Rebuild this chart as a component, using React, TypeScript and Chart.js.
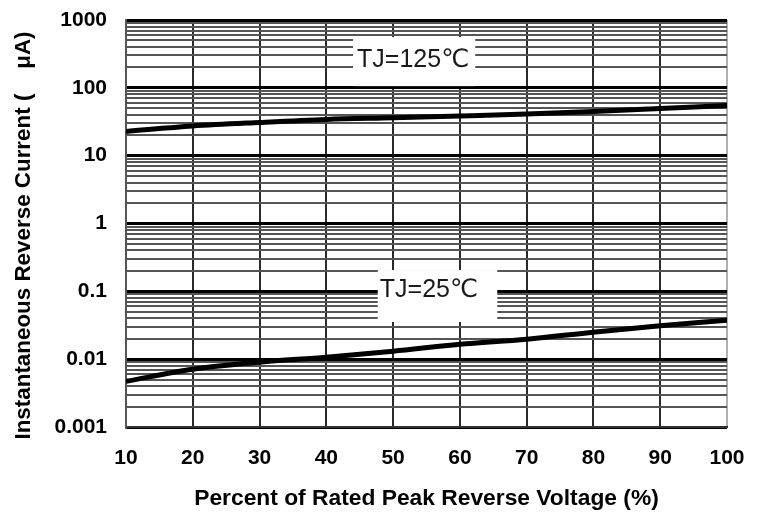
import React, { useEffect, useRef } from 'react';
import { Chart, registerables } from 'chart.js';

Chart.register(...registerables);

// ---- data ----
const xValues = [10, 20, 30, 40, 50, 60, 70, 80, 90, 100];
const tj125Values = [22.8, 27.4, 30.9, 34.2, 36.2, 38.5, 41.2, 44.9, 49.7, 55];
const tj25Values = [0.0047, 0.0071, 0.009, 0.0107, 0.0131, 0.0166, 0.0197, 0.025, 0.0312, 0.0376];

const xTickValues = [10, 20, 30, 40, 50, 60, 70, 80, 90, 100];
const xTickLabels = ['10', '20', '30', '40', '50', '60', '70', '80', '90', '100'];
const yDecadeValues = [0.001, 0.01, 0.1, 1, 10, 100, 1000];
const yDecadeLabels = ['0.001', '0.01', '0.1', '1', '10', '100', '1000'];
const yMinorMultipliers = [2, 3, 4, 5, 6, 7, 8, 9];

const seriesLabels = ['TJ=125\u2103', 'TJ=25\u2103'];
const xTitle = 'Percent of Rated Peak Reverse Voltage (%)';
const yTitle = 'Instantaneous Reverse Current (    \u03bcA)';

const FONT = "'Liberation Sans', Arial, 'DejaVu Sans', sans-serif";

function buildYTicks() {
  const ticks: { value: number }[] = [];
  for (let i = 0; i < yDecadeValues.length; i++) {
    const d = yDecadeValues[i];
    ticks.push({ value: d });
    if (i < yDecadeValues.length - 1) {
      for (const m of yMinorMultipliers) ticks.push({ value: +(d * m).toPrecision(3) });
    }
  }
  return ticks;
}

function isDecade(v: number) {
  return yDecadeValues.some((d) => Math.abs(v - d) / d < 1e-6);
}
function decadeLabel(v: number) {
  const i = yDecadeValues.findIndex((d) => Math.abs(v - d) / d < 1e-6);
  return i >= 0 ? yDecadeLabels[i] : '';
}

// label boxes in data coordinates
const labelBoxes = [
  { text: seriesLabels[0], x0: 44.0, x1: 62.3, yTop: 561, yBottom: 106, tx: 44.6, ty: 203 },
  { text: seriesLabels[1], x0: 47.7, x1: 65.6, yTop: 0.206, yBottom: 0.0353, tx: 48.0, ty: 0.0824 },
];

const overlayPlugin = {
  id: 'overlay',
  afterDraw(chart: any) {
    const { ctx, chartArea, scales } = chart;
    const xs = scales.x;
    const ys = scales.y;
    ctx.save();
    for (const b of labelBoxes) {
      const l = xs.getPixelForValue(b.x0);
      const r = xs.getPixelForValue(b.x1);
      const t = ys.getPixelForValue(b.yTop);
      const bt = ys.getPixelForValue(b.yBottom);
      ctx.fillStyle = '#ffffff';
      ctx.fillRect(l, t, r - l, bt - t);
      ctx.fillStyle = '#1a1a1a';
      ctx.font = `25px ${FONT}`;
      ctx.textAlign = 'left';
      ctx.textBaseline = 'alphabetic';
      ctx.fillText(b.text, xs.getPixelForValue(b.tx), ys.getPixelForValue(b.ty));
    }
    // axis titles
    ctx.fillStyle = '#000';
    ctx.font = `bold 22.8px ${FONT}`;
    ctx.textAlign = 'center';
    ctx.textBaseline = 'middle';
    ctx.fillText(xTitle, (chartArea.left + chartArea.right) / 2, chartArea.bottom + 72);
    ctx.font = `bold 22.4px ${FONT}`;
    ctx.translate(24, (chartArea.top + chartArea.bottom) / 2 + 12);
    ctx.rotate(-Math.PI / 2);
    ctx.fillText(yTitle, 0, 0);
    ctx.restore();
  },
};

export default function App() {
  const ref = useRef<HTMLCanvasElement | null>(null);
  useEffect(() => {
    if (!ref.current) return;
    const chart = new Chart(ref.current, {
      type: 'line',
      data: {
        datasets: [
          {
            label: seriesLabels[0],
            data: xValues.map((x, i) => ({ x, y: tj125Values[i] })),
            borderColor: '#000',
            borderWidth: 5,
            pointRadius: 0,
            cubicInterpolationMode: 'monotone',
          },
          {
            label: seriesLabels[1],
            data: xValues.map((x, i) => ({ x, y: tj25Values[i] })),
            borderColor: '#000',
            borderWidth: 5,
            pointRadius: 0,
            cubicInterpolationMode: 'monotone',
          },
        ],
      },
      options: {
        animation: false,
        responsive: true,
        maintainAspectRatio: false,
        layout: { padding: { top: 20, right: 30, left: 0, bottom: 0 } },
        plugins: { legend: { display: false }, tooltip: { enabled: false } },
        scales: {
          x: {
            type: 'linear',
            min: 10,
            max: 100,
            afterBuildTicks: (s: any) => {
              s.ticks = xTickValues.map((v) => ({ value: v }));
            },
            afterFit: (s: any) => {
              s.height = 86;
              s.paddingLeft = 0;
              s.paddingRight = 0;
            },
            ticks: {
              autoSkip: false,
              maxRotation: 0,
              padding: 19,
              color: '#000',
              font: { family: FONT, size: 21, weight: 'bold' },
              callback: (v: any) => {
                const i = xTickValues.indexOf(Number(v));
                return i >= 0 ? xTickLabels[i] : '';
              },
            },
            grid: {
              drawTicks: false,
              color: (c: any) => (c.tick && c.tick.value === 100 ? '#b0b0b0' : '#2a2a2a'),
              lineWidth: 2,
            },
            border: { color: '#333', width: 2 },
          },
          y: {
            type: 'logarithmic',
            min: 0.001,
            max: 1000,
            afterBuildTicks: (s: any) => {
              s.ticks = buildYTicks();
            },
            afterFit: (s: any) => {
              s.width = 126;
              s.paddingTop = 0;
              s.paddingBottom = 0;
            },
            ticks: {
              autoSkip: false,
              padding: 19,
              color: '#000',
              font: { family: FONT, size: 21, weight: 'bold' },
              callback: (v: any) => decadeLabel(Number(v)),
            },
            grid: {
              drawTicks: false,
              color: (c: any) => (c.tick && isDecade(c.tick.value) ? '#000' : '#555'),
              lineWidth: (c: any) => (c.tick && isDecade(c.tick.value) ? 3 : 2),
            },
            border: { color: '#555', width: 2 },
          },
        },
      },
      plugins: [overlayPlugin],
    } as any);
    return () => chart.destroy();
  }, []);
  return (
    <div style={{ position: 'absolute', left: 0, top: 0, width: 757, height: 513, background: '#fff' }}>
      <canvas ref={ref} />
    </div>
  );
}
